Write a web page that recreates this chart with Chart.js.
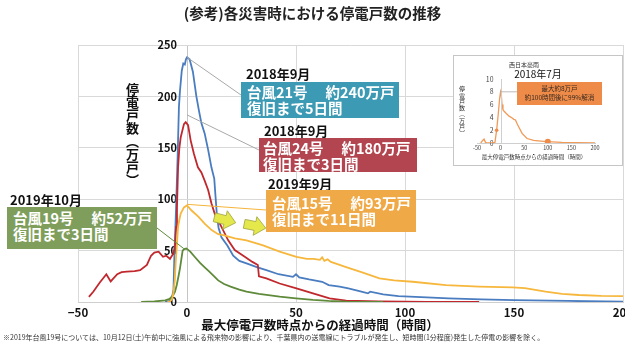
<!DOCTYPE html>
<html lang="ja">
<head>
<meta charset="utf-8">
<script src="https://cdn.jsdelivr.net/npm/chart.js@4.4.0/dist/chart.umd.min.js"></script>
<style>
  html, body { margin: 0; padding: 0; background: #fff; }
  body { width: 625px; height: 342px; position: relative; overflow: hidden;
         font-family: "Noto Sans CJK JP", sans-serif; }
  #main { position: absolute; left: 0; top: 0; }
  .abs { position: absolute; white-space: pre; line-height: 1; }
  .date { font-size: 13px; font-weight: bold; color: #111; }
  .box { position: absolute; color: #fff; font-weight: bold; font-size: 14.5px;
         line-height: 16px; white-space: pre; box-sizing: border-box; padding: 2px 0 0 6px; }
  #inset { position: absolute; left: 453px; top: 55px; width: 170px; height: 111px;
           box-sizing: border-box; border: 1px solid #c6c6c6; background: #fff; }
  #insetCanvas { position: absolute; left: 0; top: 0; }
</style>
</head>
<body>
<canvas id="main" width="625" height="342"></canvas>

<div class="abs" style="left:0;top:6px;width:625px;text-align:center;font-size:14.5px;font-weight:bold;color:#222;">(参考)各災害時における停電戸数の推移</div>
<div class="abs" style="left:126px;top:83px;writing-mode:vertical-rl;font-size:13px;font-weight:bold;color:#111;">停電戸数（万戸）</div>
<div class="abs" style="left:0;top:319px;width:640px;text-align:center;font-size:12.5px;font-weight:bold;color:#111;">最大停電戸数時点からの経過時間（時間）</div>
<div class="abs" style="left:3px;top:334px;font-size:7px;color:#333;">※2019年台風19号については、10月12日(土)午前中に強風による飛来物の影響により、千葉県内の送電線にトラブルが発生し、短時間(1分程度)発生した停電の影響を除く。</div>

<div class="abs date" style="left:246px;top:67px;">2018年9月</div>
<div class="box" style="left:241px;top:82px;width:158px;height:36px;background:#3c9ab4;">台風21号　 約240万戸
復旧まで5日間</div>

<div class="abs date" style="left:264px;top:124px;">2018年9月</div>
<div class="box" style="left:259px;top:138px;width:158px;height:34px;background:#b2454f;padding-left:4px;">台風24号　 約180万戸
復旧まで3日間</div>

<div class="abs date" style="left:268px;top:177px;">2019年9月</div>
<div class="box" style="left:266px;top:190px;width:150px;height:42px;background:#f0a947;padding-top:5px;">台風15号　 約93万戸
復旧まで11日間</div>

<div class="abs date" style="left:10px;top:193px;">2019年10月</div>
<div class="box" style="left:7px;top:207px;width:150px;height:42px;background:#7f9e5b;padding-top:3px;">台風19号　 約52万戸
復旧まで3日間</div>

<div id="inset"><canvas id="insetCanvas" width="168" height="109"></canvas></div>

<script>
Chart.defaults.font.family = '"Noto Sans CJK JP", sans-serif';
Chart.defaults.color = '#111';

// axis ticks
const xTicks = [-50, 0, 50, 100, 150, 200];
const yTicks = [0, 50, 100, 150, 200, 250];

// 台風21号 (2018年9月)
const t21 = [-10, -8, -7, -6.2, -5.8, -5.0, -4.3, -3.7, -3.2, -2.4, -1.7, -1.0, -0.5, 0, 1.2, 2.7, 4.3, 5.5, 6.6, 8.1, 9.7, 11.2, 12.5, 13.0, 13.7, 14.5, 15.8, 18.5, 21.2, 24, 27.3, 32, 36.4, 42, 48.6, 50, 51.5, 56, 62, 65, 70, 74, 80, 83, 84, 90, 97, 110, 120, 135, 150, 175, 200];
const v21 = [0, 1, 3, 12, 44, 92, 141, 190, 206, 225, 232, 231, 236, 238, 236, 224, 200, 186, 174, 164, 148, 131, 120, 105, 85, 72, 63, 55, 45, 40, 37.5, 34, 31, 27, 24.5, 27, 24, 22, 19.7, 16.5, 15, 13.3, 10, 8.4, 10, 7.5, 5.8, 4.5, 3.5, 2.5, 1.9, 1, 0.3];

// 台風24号 (2018年9月)
const t24 = [-45, -43, -40, -37, -35, -32, -30, -27.6, -24, -21.5, -18.4, -16.5, -15, -13, -11, -9.5, -7.8, -6.3, -5.5, -5.0, -4.6, -4.1, -3.5, -2.9, -1.4, -0.6, 0.5, 1.7, 3.2, 5, 6.6, 8.1, 9.7, 11.2, 12.7, 14.2, 15.8, 18.9, 21.9, 26.5, 30, 32.5, 33, 36.4, 42.5, 50.2, 57.8, 65.4, 73, 88, 110, 134];
const v24 = [5, 10, 19, 27, 20, 27, 29, 29.5, 30, 31, 36, 45, 48, 49, 44, 45, 42, 47, 54, 73, 92, 131, 150, 160, 173, 175, 172, 157, 144, 131, 126, 118, 109, 96, 86, 80, 73, 60, 50.5, 44, 39, 36, 25, 23, 18, 13.3, 8.4, 3.6, 1.4, 0.5, 0.2, 0.1];

// 台風19号 (2019年10月)
const t19 = [-21, -15, -10, -8, -6.3, -5.5, -4.7, -3.9, -3.2, -2.5, -2, -1.3, -0.3, 1.5, 3.5, 6, 8, 10, 12, 14.3, 17, 20, 24, 27.3, 33, 42.5, 50, 57.8, 65, 73, 80, 90];
const v19 = [0, 0.5, 1.5, 3, 6.8, 10, 16.5, 25, 33, 43, 50, 51.5, 52, 49, 44, 38, 34, 30, 26, 21, 17.5, 15, 12, 10, 8, 5.2, 3.5, 2, 1, 0.3, 0.1, 0];

// 台風15号 (2019年9月)
const t15 = [-9, -7.8, -6.8, -6.3, -5.6, -5.2, -4.7, -4.1, -3.5, -2.9, -1.4, 0, 2.1, 5.2, 8.2, 11.3, 14.3, 16.6, 22, 27.3, 34.9, 42.5, 50.2, 55, 58, 61, 62, 63, 64.5, 66, 73, 80, 88.3, 95, 103.5, 118.8, 134, 149.3, 155, 164.5, 172, 179.8, 190, 200];
const v15 = [0, 0.5, 3, 8, 21, 38, 54, 73, 80, 86, 92, 94, 89, 83, 76, 70, 66, 65, 62, 60, 55, 49, 44, 42, 42, 41, 43.5, 40, 41.5, 39, 34, 29, 23, 21, 19.7, 16.5, 15, 14.2, 13.5, 10, 8, 6.8, 6, 5.8];

// 西日本豪雨 (2018年7月) inset
const insetXTicks = [-50, 0, 50, 100, 150, 200];
const insetYTicks = [0, 2, 4, 6, 8, 10];
const tWest = [-42, -38, -35, -32, -28, -20, -12, -8.4, -5, -2, 0, 1.5, 3, 5, 7, 12, 18, 24.5, 28, 31.5, 35, 38.5, 45.5, 56, 70, 85, 100, 130, 160, 200];
const vWest = [0, 0.4, 0.6, 0.1, 0, 0, 0.1, 2.0, 4.5, 7.0, 8.0, 7.5, 6.0, 5.2, 5.0, 4.6, 4.2, 3.9, 3.7, 3.6, 3.0, 2.5, 1.5, 0.7, 0.4, 0.3, 0.2, 0.1, 0.05, 0];
const westMarkT = [-8.4, 100];
const westMarkV = [2.0, 0.2];

function pts(ts, vs) {
  return ts.map((t, i) => ({x: t, y: vs[i]}));
}

// leader lines: from a data point to a label box corner (pixels)
const leaders = [
  {t: 0, v: 238, px: 241, py: 95, color: '#a8a8a8'},
  {t: 0, v: 182, px: 259, py: 150, color: '#a8a8a8'},
  {t: 0, v: 95, px: 266, py: 210, color: '#f5b43a'},
  {t: -1.5, v: 52, px: 157, py: 228, color: '#5e8a3a'}
];
const arrowMarks = [
  {cx: 225, cy: 220, rot: 0.25},
  {cx: 255, cy: 226, rot: 0.2}
];

function drawArrow(ctx, a) {
  ctx.save();
  ctx.translate(a.cx, a.cy);
  ctx.rotate(a.rot);
  ctx.beginPath();
  ctx.moveTo(-11, -4.5);
  ctx.lineTo(0, -4.5);
  ctx.lineTo(0, -9.5);
  ctx.lineTo(11, 0);
  ctx.lineTo(0, 9.5);
  ctx.lineTo(0, 4.5);
  ctx.lineTo(-11, 4.5);
  ctx.closePath();
  ctx.fillStyle = '#e4e84a';
  ctx.fill();
  ctx.strokeStyle = '#a3a845';
  ctx.lineWidth = 0.8;
  ctx.stroke();
  ctx.restore();
}

const overlay = {
  id: 'overlay',
  afterDatasetsDraw(chart) {
    const {ctx, scales: {x, y}} = chart;
    ctx.save();
    leaders.forEach(l => {
      ctx.strokeStyle = l.color;
      ctx.lineWidth = 1;
      ctx.beginPath();
      ctx.moveTo(x.getPixelForValue(l.t), y.getPixelForValue(l.v));
      ctx.lineTo(l.px, l.py);
      ctx.stroke();
    });
    arrowMarks.forEach(a => drawArrow(ctx, a));
    ctx.restore();
  }
};

// slide the y scale box so that it ends next to the zero line (Excel style labels)
const yAtZero = {
  id: 'yAtZero',
  afterLayout(chart, args, opts) {
    const ys = chart.scales.y;
    const right = chart.scales.x.getPixelForValue(0) - opts.gap;
    ys.left = right - ys.width;
    ys.right = right;
  }
};

const lineStyle = {pointRadius: 0, borderWidth: 1.8, tension: 0, fill: false};

const mainChart = new Chart(document.getElementById('main'), {
  type: 'line',
  data: {
    datasets: [
      {label: '台風15号', data: pts(t15, v15), borderColor: '#f6b73c', ...lineStyle},
      {label: '台風19号', data: pts(t19, v19), borderColor: '#5e8a3a', ...lineStyle},
      {label: '台風24号', data: pts(t24, v24), borderColor: '#c0282d', ...lineStyle},
      {label: '台風21号', data: pts(t21, v21), borderColor: '#4a7cc0', ...lineStyle}
    ]
  },
  options: {
    responsive: false,
    animation: false,
    devicePixelRatio: 1,
    layout: {padding: {left: 56, right: 2, top: 45, bottom: 0}},
    plugins: {legend: {display: false}, tooltip: {enabled: false}, yAtZero: {gap: 10}},
    scales: {
      x: {
        type: 'linear',
        min: -50, max: 200,
        afterBuildTicks: s => { s.ticks = xTicks.map(v => ({value: v})); },
        afterFit: s => { s.height = 40; s.paddingLeft = 0; s.paddingRight = 0; },
        ticks: {
          padding: 4,
          font: {size: 11.5, weight: 'bold'},
          color: '#111',
          maxRotation: 0,
          callback: v => (v < 0 ? '−' + Math.abs(v) : String(v))
        },
        grid: {
          color: c => (c.tick && c.tick.value === 0 ? '#c4c4c4' : '#d9d9d9'),
          drawTicks: false
        },
        border: {color: '#cfcfcf'}
      },
      y: {
        type: 'linear',
        min: 0, max: 250,
        position: 'left',
        afterBuildTicks: s => { s.ticks = yTicks.map(v => ({value: v})); },
        afterFit: s => { s.width = 22; s.paddingTop = 0; s.paddingBottom = 0; },
        ticks: {padding: 0, font: {size: 11, weight: 'bold'}, color: '#111'},
        grid: {color: '#d9d9d9', drawTicks: false},
        border: {display: false}
      }
    }
  },
  plugins: [overlay, yAtZero]
});

// inset chart texts drawn on its own canvas (very small type)
const insetText = {
  id: 'insetText',
  afterDatasetsDraw(chart) {
    const {ctx, scales: {x, y}} = chart;
    ctx.save();
    // zero line
    const zx = Math.round(x.getPixelForValue(0)) + 0.5;
    ctx.strokeStyle = '#cfcfcf';
    ctx.lineWidth = 1;
    ctx.beginPath();
    ctx.moveTo(zx, chart.chartArea.top);
    ctx.lineTo(zx, chart.chartArea.bottom);
    ctx.stroke();
    // leader from peak to box
    ctx.strokeStyle = '#a8a8a8';
    ctx.lineWidth = 0.8;
    ctx.beginPath();
    ctx.moveTo(x.getPixelForValue(0), y.getPixelForValue(8));
    ctx.lineTo(63, y.getPixelForValue(8));
    ctx.stroke();
    // orange note box
    ctx.fillStyle = '#ee8b48';
    ctx.fillRect(63, 26, 85, 23);
    ctx.fillStyle = '#3a2a20';
    ctx.textAlign = 'center';
    ctx.textBaseline = 'middle';
    ctx.font = '6.5px "Noto Sans CJK JP"';
    ctx.fillText('最大約8万戸', 105.5, 32.5);
    ctx.fillText('約100時間後に99%解消', 105.5, 42);
    // headings
    ctx.fillStyle = '#333';
    ctx.font = '6px "Noto Sans CJK JP"';
    ctx.fillText('西日本豪雨', 70, 9);
    ctx.fillStyle = '#111';
    ctx.font = '10px "Noto Sans CJK JP"';
    ctx.fillText('2018年7月', 84, 18.5);
    // axis titles
    ctx.fillStyle = '#333';
    ctx.font = '5.5px "Noto Sans CJK JP"';
    ctx.fillText('最大停電戸数時点からの経過時間（時間）', 80, 101);
    ctx.font = '6px "Noto Sans CJK JP"';
    const vt = '停電戸数（万戸）';
    [...vt].forEach((ch, i) => {
      const cy = 33 + i * 6.3;
      if (ch === '（' || ch === '）') {
        ctx.save();
        ctx.translate(8, cy);
        ctx.rotate(Math.PI / 2);
        ctx.fillText(ch, 0, 0);
        ctx.restore();
      } else {
        ctx.fillText(ch, 8, cy);
      }
    });
    ctx.restore();
  }
};

const insetChart = new Chart(document.getElementById('insetCanvas'), {
  type: 'line',
  data: {
    datasets: [
      {label: 'marks', data: pts(westMarkT, westMarkV), showLine: false,
       pointRadius: [1.8, 3], pointBackgroundColor: '#ee8b48', pointBorderWidth: 0},
      {label: '西日本豪雨', data: pts(tWest, vWest), borderColor: '#f09a58',
       pointRadius: 0, borderWidth: 1.3, tension: 0}
    ]
  },
  options: {
    responsive: false,
    animation: false,
    devicePixelRatio: 1,
    layout: {padding: {left: 11, right: 27, top: 23, bottom: 0}},
    plugins: {legend: {display: false}, tooltip: {enabled: false}, yAtZero: {gap: 7}},
    scales: {
      x: {
        type: 'linear', min: -50, max: 200,
        afterBuildTicks: s => { s.ticks = insetXTicks.map(v => ({value: v})); },
        afterFit: s => { s.height = 22; s.paddingLeft = 0; s.paddingRight = 0; },
        ticks: {padding: 2, font: {size: 5.5}, color: '#444', maxRotation: 0},
        grid: {display: false, drawTicks: false},
        border: {color: '#cfcfcf'}
      },
      y: {
        type: 'linear', min: 0, max: 10,
        position: 'left',
        afterBuildTicks: s => { s.ticks = insetYTicks.map(v => ({value: v})); },
        afterFit: s => { s.width = 12; s.paddingTop = 0; s.paddingBottom = 0; },
        ticks: {padding: 0, font: {size: 7}, color: '#444'},
        grid: {display: false, drawTicks: false},
        border: {display: false}
      }
    }
  },
  plugins: [insetText, yAtZero]
});
</script>
</body>
</html>
